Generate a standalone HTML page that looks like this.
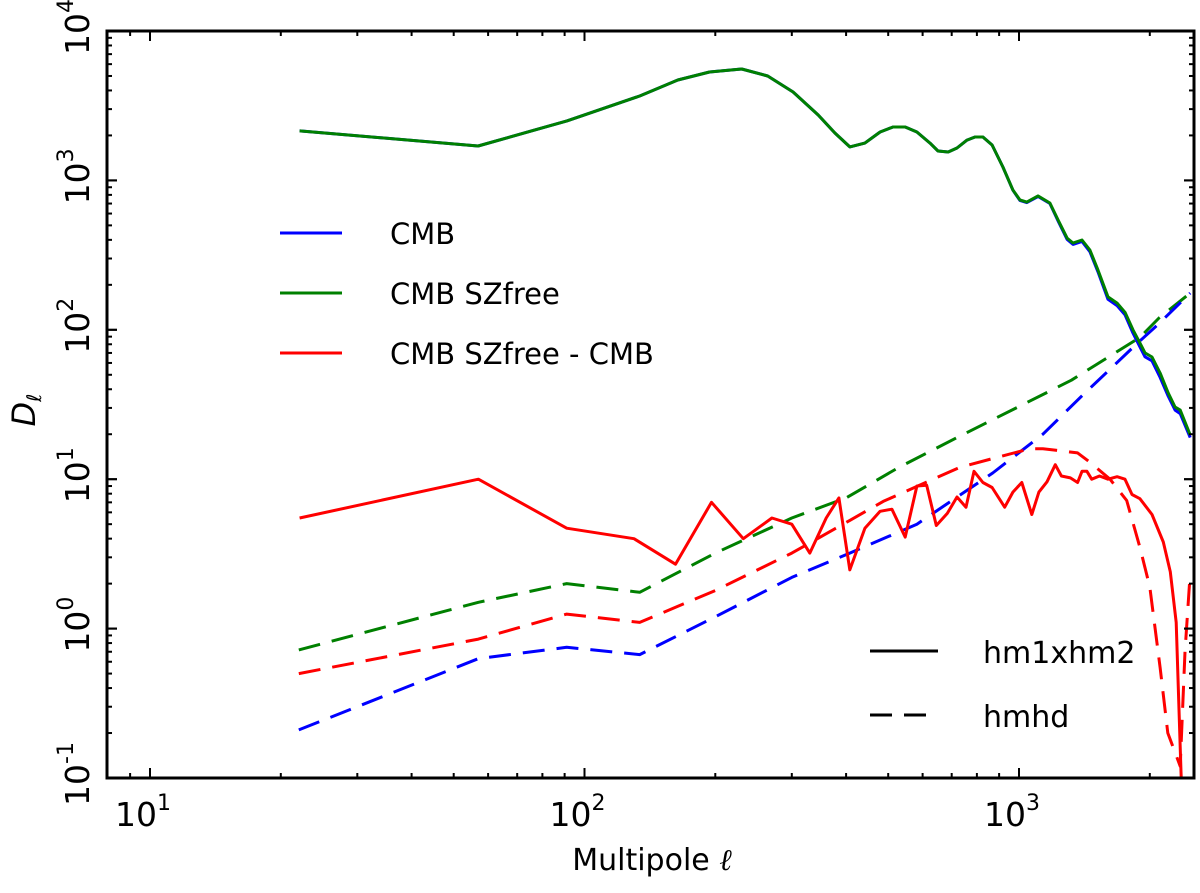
<!DOCTYPE html>
<html><head><meta charset="utf-8"><style>
body{margin:0;background:#fff;}
svg text{font-family:"DejaVu Sans","Liberation Sans",sans-serif;}
</style></head><body>
<svg id="chart" width="1200" height="888">
<defs><clipPath id="clip"><rect x="107" y="31" width="1087" height="747"/></clipPath></defs>
<g id="marks" clip-path="url(#clip)"></g>
<rect x="107" y="31" width="1087" height="747" fill="none" stroke="#000" stroke-width="3"/>
<g id="ticks"></g>
<text x="652" y="870" font-size="30" text-anchor="middle">Multipole <tspan font-style="italic" font-family="Liberation Serif, serif">ℓ</tspan></text>
<text transform="translate(35,410) rotate(-90)" font-size="32" text-anchor="middle" font-style="italic" font-family="Liberation Serif, serif">D<tspan font-size="20" dy="6">ℓ</tspan></text>
<g>
<line x1="280" y1="233" x2="342" y2="233" stroke="#0000ff" stroke-width="3"/>
<text x="390" y="244" font-size="29">CMB</text>
<line x1="280" y1="293" x2="342" y2="293" stroke="#008000" stroke-width="3"/>
<text x="390" y="304" font-size="29">CMB SZfree</text>
<line x1="280" y1="353" x2="342" y2="353" stroke="#ff0000" stroke-width="3"/>
<text x="390" y="364" font-size="29">CMB SZfree - CMB</text>
</g>
<g>
<line x1="870" y1="651" x2="938" y2="651" stroke="#000" stroke-width="3"/>
<text x="983" y="663" font-size="30">hm1xhm2</text>
<line x1="870" y1="715" x2="938" y2="715" stroke="#000" stroke-width="3" stroke-dasharray="22,12"/>
<text x="983" y="727" font-size="30">hmhd</text>
</g>
</svg>
<script>
const ellSolid=[22.1,56.9,91.1,134,164,194,230,264,302,345,377,408,442,479,513,547,582,624,651,687,720,759,792,826,867,918,968,1005,1042,1106,1178,1230,1290,1331,1396,1456,1520,1603,1682,1754,1830,1898,1950,2024,2112,2205,2287,2350,2477];
const greenSolid=[2143,1698,2500,3673,4698,5318,5571,5000,3908,2742,2075,1675,1778,2109,2276,2276,2109,1778,1574,1549,1648,1862,1953,1953,1726,1230,863,740,716,787,706,543,411,381,399,342,251,166,151,131,99.8,81.7,70,65.8,51.4,37.8,30.4,29.0,19.8];
const blueSolid=[2143,1698,2500,3673,4698,5318,5571,5000,3908,2742,2075,1675,1778,2109,2276,2276,2109,1778,1574,1549,1648,1862,1953,1953,1726,1230,860,735,710,780,700,535,403,373,390,333,244,160,145,126,95,77,66,62,48,36,29,27.5,19.0];
const ellGreenDash=[22,57,91,134,200,300,400,529,720,1030,1320,1500,1898,2100,2477];
const greenDash=[0.72,1.5,2.0,1.75,3.2,5.5,7.5,12,19,32,46,58,89,120,176];
const ellBlueDash=[22,57,91,134,200,300,408,582,870,968,1135,1380,1870,2100,2477];
const blueDash=[0.21,0.63,0.75,0.67,1.2,2.2,3.2,5,11,14,20,35,81,110,176];
const ellRedDash=[22,57,91,134,200,300,408,487,730,890,1060,1135,1364,1456,1620,1770,1898,2000,2112,2200,2350,2410,2477];
const redDash=[0.5,0.85,1.25,1.1,1.8,3.2,5.3,7.1,12,14,16,16,15,13,10,7.2,3.5,1.9,0.55,0.2,0.12,0.7,2.35];
const ellRedSolid=[22.1,57,91,130,162,196,232,270,300,330,360,385,408,442,479,510,547,582,613,645,684,720,755,788,826,867,927,968,1015,1070,1111,1160,1212,1252,1313,1364,1396,1433,1470,1532,1603,1682,1754,1820,1898,2024,2148,2230,2300,2360,2370];
const redSolid=[5.5,10,4.7,4.0,2.7,7,4.0,5.5,5,3.2,5.5,7.5,2.47,4.7,6.1,6.3,4.1,9.0,9.1,4.9,5.9,7.6,6.5,11.3,9.5,8.8,6.5,8.2,9.5,5.8,8.2,9.6,12.5,10.5,10.2,9.5,11.3,11.3,10,10.5,10,10.4,10,7.9,7.4,5.8,3.8,2.4,1.1,0.11,0.08];
const xTickLabels=["1","2","3"];
const yTickLabels=["-1","0","1","2","3","4"];
const X=l=>150+434.5*(Math.log10(l)-1);
const Y=d=>31+149.4*(4-Math.log10(d));
const NS="http://www.w3.org/2000/svg";
const marks=document.getElementById('marks'),ticks=document.getElementById('ticks');
function line(xs,ys,color,dash,name){
  const p=document.createElementNS(NS,'polyline');
  p.setAttribute('points',xs.map((l,i)=>X(l).toFixed(1)+','+Y(ys[i]).toFixed(1)).join(' '));
  p.setAttribute('fill','none');p.setAttribute('stroke',color);p.setAttribute('stroke-width','3');
  p.setAttribute('stroke-linejoin','round');
  if(dash)p.setAttribute('stroke-dasharray','22,12');
  
  
  marks.appendChild(p);
}
line(ellGreenDash,greenDash,'#008000',true,'cmb-szfree-hmhd-line');
line(ellBlueDash,blueDash,'#0000ff',true,'cmb-hmhd-line');
line(ellRedDash,redDash,'#ff0000',true,'diff-hmhd-line');
line(ellSolid,blueSolid,'#0000ff',false,'cmb-hm1xhm2-line');
line(ellSolid,greenSolid,'#008000',false,'cmb-szfree-hm1xhm2-line');
line(ellRedSolid,redSolid,'#ff0000',false,'diff-hm1xhm2-line');
function tk(x1,y1,x2,y2){const l=document.createElementNS(NS,'line');l.setAttribute('x1',x1);l.setAttribute('y1',y1);l.setAttribute('x2',x2);l.setAttribute('y2',y2);l.setAttribute('stroke','#000');l.setAttribute('stroke-width','2');


ticks.appendChild(l);}
for(let e=0;e<4;e++)for(let m=1;m<10;m++){const v=m*Math.pow(10,e);const x=X(v);if(x<108||x>1193)continue;const L=m===1?10:5;tk(x,778,x,778-L);tk(x,31,x,31+L);}
for(let e=-1;e<4;e++)for(let m=1;m<=10;m++){const v=m*Math.pow(10,e);const y=Y(v);if(y<31||y>778)continue;const L=(m===1||m===10)?10:5;tk(107,y,107+L,y);tk(1194,y,1194-L,y);}
xTickLabels.forEach(s=>{const t=document.createElementNS(NS,'text');t.setAttribute('x',X(Math.pow(10,+s))-7);t.setAttribute('y',826);t.setAttribute('font-size','33');t.setAttribute('text-anchor','middle');
t.innerHTML='10<tspan font-size="22" dy="-16">'+s+'</tspan>';


ticks.appendChild(t);});
yTickLabels.forEach(s=>{const y=Y(Math.pow(10,+s));const t=document.createElementNS(NS,'text');t.setAttribute('transform','translate(89,'+(y-4)+') rotate(-90)');t.setAttribute('font-size','33');t.setAttribute('text-anchor','middle');
t.innerHTML='10<tspan font-size="22" dy="-16">'+s+'</tspan>';


ticks.appendChild(t);});
</script>
</body></html>
